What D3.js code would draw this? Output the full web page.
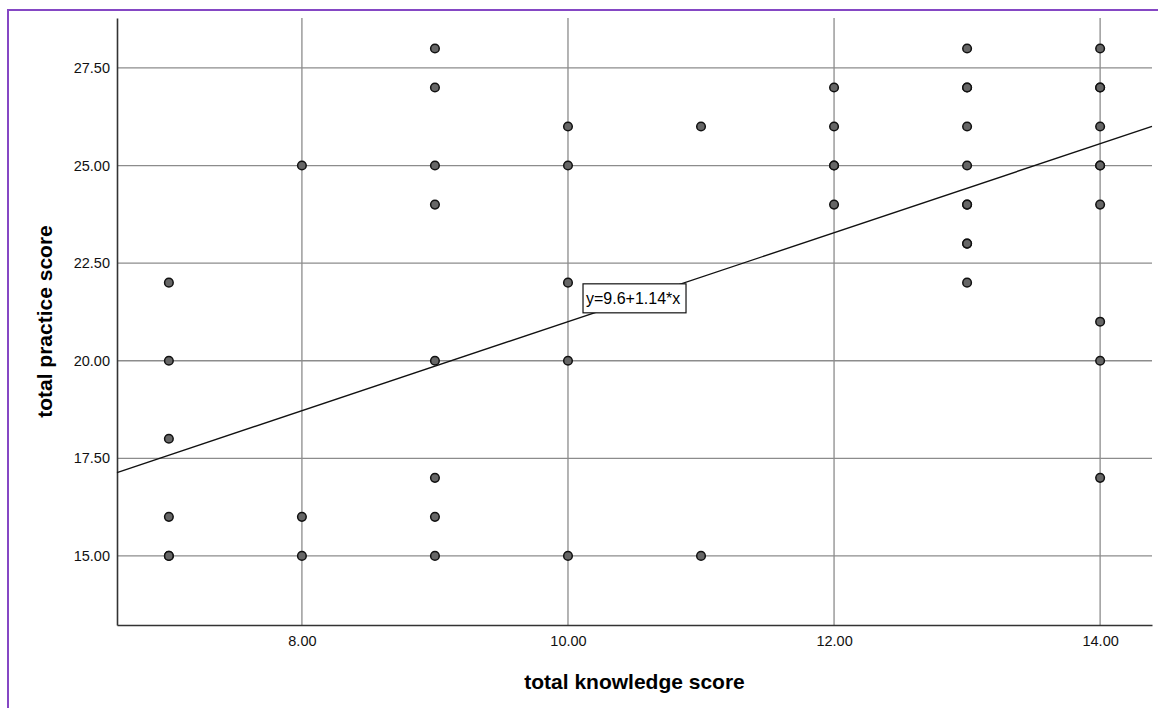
<!DOCTYPE html>
<html>
<head>
<meta charset="utf-8">
<script src="https://cdn.jsdelivr.net/npm/d3@7"></script>
<style>
  body { margin: 0; background: #fff; overflow: hidden; }
  svg { display: block; overflow: hidden; font-family: "Liberation Sans", Arial, sans-serif; }
</style>
</head>
<body>
<div id="chart"></div>
<script>
// knowledge (x) and practice (y) scores
const knowledge = [
  7, 7, 7, 7, 7, 7,
  8, 8, 8,
  9, 9, 9, 9, 9, 9, 9, 9,
  10, 10, 10, 10, 10,
  11, 11,
  12, 12, 12, 12, 12,
  13, 13, 13, 13, 13, 13, 13, 13, 13, 13,
  14, 14, 14, 14, 14, 14, 14, 14, 14, 14
]
const practice = [
  22, 20, 18, 16, 15, 15,
  25, 16, 15,
  28, 27, 25, 24, 20, 17, 16, 15,
  26, 25, 22, 20, 15,
  26, 15,
  27, 26, 25, 25, 24,
  28, 27, 27, 26, 25, 24, 24, 23, 23, 22,
  28, 27, 27, 26, 25, 25, 24, 21, 20, 17
]
const xTicks = [8, 10, 12, 14]
const yTicks = [15, 17.5, 20, 22.5, 25, 27.5]
const fitIntercept = 9.6
const fitSlope = 1.14
const fitLabel = 'y=9.6+1.14*x'

const width = 1158
const height = 708
const margin = { top: 18, right: 6, bottom: 83, left: 117 }

const svg = d3.select('#chart')
  .append('svg')
  .attr('width', width)
  .attr('height', height)

// purple frame, clipped by the window on right/bottom
svg.append('rect')
  .attr('x', 8).attr('y', 10)
  .attr('width', width + 40).attr('height', height + 40)
  .attr('fill', 'none')
  .attr('stroke', '#8547c4')
  .attr('stroke-width', 2)

const x = d3.scaleLinear().domain([6.61, 14.39]).range([margin.left, width - margin.right])
const y = d3.scaleLinear().domain([13.23, 28.78]).range([height - margin.bottom, margin.top])

const g = svg.append('g')

// grid
g.selectAll('.hgrid').data(yTicks).enter().append('line')
  .attr('x1', x.range()[0]).attr('x2', x.range()[1])
  .attr('y1', d => y(d)).attr('y2', d => y(d))
  .attr('stroke', '#8c8c8c').attr('stroke-width', 1.3)
g.selectAll('.vgrid').data(xTicks).enter().append('line')
  .attr('x1', d => x(d)).attr('x2', d => x(d))
  .attr('y1', y.range()[0]).attr('y2', y.range()[1])
  .attr('stroke', '#8c8c8c').attr('stroke-width', 1.3)

// axes
const xAxis = g.append('g')
  .attr('transform', `translate(0,${y.range()[0]})`)
  .call(d3.axisBottom(x).tickValues(xTicks).tickFormat(d3.format('.2f')).tickSize(0).tickPadding(11))
const yAxis = g.append('g')
  .attr('transform', `translate(${x.range()[0]},0)`)
  .call(d3.axisLeft(y).tickValues(yTicks).tickFormat(d3.format('.2f')).tickSize(0).tickPadding(7))

;[xAxis, yAxis].forEach(a => {
  a.select('.domain').attr('stroke', '#333').attr('stroke-width', 1.6)
  a.selectAll('text').attr('font-size', 14.5).attr('fill', '#111')
    .attr('font-family', '"Liberation Sans", Arial, sans-serif')
})

// fit line
const [x0, x1] = x.domain()
g.append('line')
  .attr('x1', x(x0)).attr('y1', y(fitIntercept + fitSlope * x0))
  .attr('x2', x(x1)).attr('y2', y(fitIntercept + fitSlope * x1))
  .attr('stroke', '#111').attr('stroke-width', 1.4)

// points
g.selectAll('circle').data(knowledge).enter().append('circle')
  .attr('cx', d => x(d))
  .attr('cy', (d, i) => y(practice[i]))
  .attr('r', 4.3)
  .attr('fill', '#666')
  .attr('stroke', '#111')
  .attr('stroke-width', 1.5)

// equation label
const lx = x(10.113)
const ly = y(21.97)
const lab = g.append('g').attr('transform', `translate(${lx},${ly})`)
lab.append('rect')
  .attr('width', 103).attr('height', 29)
  .attr('fill', '#fff').attr('stroke', '#111').attr('stroke-width', 1.2)
lab.append('text')
  .attr('x', 3).attr('y', 20)
  .attr('font-size', 16).attr('fill', '#000')
  .text(fitLabel)

// titles
svg.append('text')
  .attr('x', (x.range()[0] + x.range()[1]) / 2)
  .attr('y', 689)
  .attr('text-anchor', 'middle')
  .attr('font-size', 21).attr('font-weight', 'bold')
  .text('total knowledge score')
svg.append('text')
  .attr('transform', `translate(52,${(y.range()[0] + y.range()[1]) / 2}) rotate(-90)`)
  .attr('text-anchor', 'middle')
  .attr('font-size', 21).attr('font-weight', 'bold')
  .text('total practice score')
</script>
</body>
</html>
